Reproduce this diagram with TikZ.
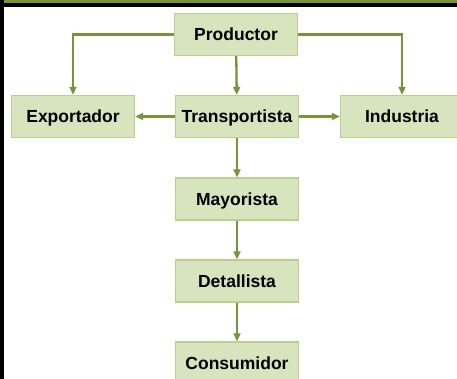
\documentclass[tikz,border=0pt]{standalone}
\usepackage{fontspec}
\setmainfont{Liberation Sans}
\usetikzlibrary{arrows.meta}
\definecolor{olive}{HTML}{77933C}
\definecolor{boxfill}{HTML}{D7E4BD}
\definecolor{boxline}{HTML}{B9CF8E}
\begin{document}
\begin{tikzpicture}[x=1pt,y=-1pt,
	agent/.style={draw=boxline,line width=1.4pt,fill=boxfill,minimum width=123pt,minimum height=42pt,inner sep=0pt,text height=12.5pt,text depth=0pt,font=\fontsize{17.5}{19}\selectfont\bfseries},
	flow/.style={draw=olive,line width=2.3pt,-{Triangle[length=8pt,width=7pt]}}]
	\clip (0,0) rectangle (457,379);
	\fill[white] (0,0) rectangle (457,379);
	\fill[olive] (0,0) rectangle (457,3);
	\fill[black] (0,3) rectangle (457,7);
	\fill[black] (0,0) rectangle (3.5,379);
	\node[agent] (prod) at (236,34.5) {Productor};
	\node[agent] (trans) at (237,116.5) {Transportista};
	\node[agent] (expo) at (73,116.5) {Exportador};
	\node[agent] (indu) at (402,116.5) {Industria};
	\node[agent] (mayo) at (237,199) {Mayorista};
	\node[agent] (deta) at (237,281) {Detallista};
	\node[agent] (cons) at (237,363) {Consumidor};
	\draw[flow] (prod.west) -| (expo.north);
	\draw[flow] (prod.east) -| (indu.north);
	\draw[flow] (prod) -- (trans);
	\draw[flow] (trans) -- (expo);
	\draw[flow] (trans) -- (indu);
	\draw[flow] (trans) -- (mayo);
	\draw[flow] (mayo) -- (deta);
	\draw[flow] (deta) -- (cons);
\end{tikzpicture}
\end{document}
